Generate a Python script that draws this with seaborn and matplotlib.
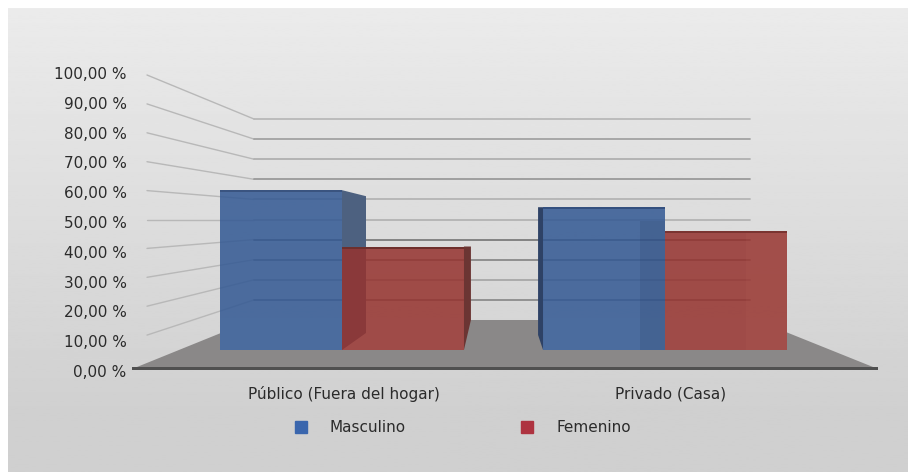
import matplotlib
matplotlib.use("Agg")
import matplotlib.pyplot as plt
from matplotlib.lines import Line2D
from matplotlib.patches import Polygon, Rectangle
from matplotlib.transforms import ScaledTranslation
import numpy as np
import pandas as pd
import seaborn as sns

categories = ["Público (Fuera del hogar)", "Privado (Casa)"]
series_names = ["Masculino", "Femenino"]
masculino = [61.0, 54.5]
femenino = [39.5, 45.5]
axis_ticks = [0, 10, 20, 30, 40, 50, 60, 70, 80, 90, 100]
back_line_greys = ["#8a8a8a", "#8c8c8c", "#a8a8a8", "#8a8a8a", "#7c7c7c",
                   "#b4b4b4", "#b4b4b4", "#9a9a9a", "#b0b0b0", "#a2a2a2", "#b8b8b8"]

W, H = 908, 472
BLUE, RED = "#325893", "#95322e"
TEXT = "#2b2b2b"

sns.set_theme(style="white")
plt.rcParams["font.family"] = ["DejaVu Sans"]

df = pd.DataFrame({
    "categoria": categories * 2,
    "sexo": [series_names[0]] * 2 + [series_names[1]] * 2,
    "valor": masculino + femenino,
})

fig = plt.figure(figsize=(W / 100, H / 100), dpi=100, facecolor="white")


def frame_rect(left, top, right, bottom):
    return [left / W, 1 - bottom / H, (right - left) / W, (bottom - top) / H]


# Backdrop, floor and wall lines live on a full-figure layer measured in pixels.
stage = fig.add_axes([0, 0, 1, 1], zorder=0)
stage.set_xlim(0, W)
stage.set_ylim(H, 0)
stage.axis("off")
shade = np.interp(np.linspace(8, H, 200), [8, 410, H], [0.922, 0.816, 0.816]).reshape(-1, 1)
stage.imshow(shade, extent=(8, W, H, 8), cmap="gray", vmin=0, vmax=1, aspect="auto", zorder=0)
stage.set_xlim(0, W)
stage.set_ylim(H, 0)

WALL_X, BACK_X, BACK_END = 147, 254, 750


def wall_y(v):
    return 364 - 2.89 * v


def back_y(v):
    return 320 - 2.01 * v


stage.add_patch(Polygon([(132, 369), (253, 320), (756, 320), (878, 369)],
                        facecolor="#8a8888", edgecolor="none", zorder=1))
stage.add_patch(Rectangle((132, 367), 746, 3, facecolor="#505050", edgecolor="none", zorder=2))
for v, grey in zip(axis_ticks[1:], back_line_greys[1:]):
    stage.plot([WALL_X, BACK_X], [wall_y(v), back_y(v)], color="#b8b8b8", lw=1.0, zorder=1)
    stage.plot([BACK_X, BACK_END], [back_y(v), back_y(v)], color=grey, lw=1.3, zorder=1)

# Value scale on the left edge.
scale = fig.add_axes(frame_rect(135, 73, 136, 371), zorder=1)
scale.patch.set_alpha(0)
scale.set_ylim(0, 100)
scale.set_xticks([])
scale.set_yticks(axis_ticks)
scale.set_yticklabels([f"{v},00 %" for v in axis_ticks], fontsize=11, color=TEXT)
scale.tick_params(axis="y", length=0, pad=6)
sns.despine(ax=scale, left=True, bottom=True)

# Front faces of the bars.
ax = fig.add_axes(frame_rect(180.5, 90, 826.5, 350), zorder=2)
ax.patch.set_alpha(0)
sns.barplot(data=df, x="categoria", y="valor", hue="sexo", order=categories,
            hue_order=series_names, palette=[BLUE, RED], width=0.755, gap=0,
            saturation=1, alpha=0.85, legend=False, ax=ax)
ax.set_xlim(-0.5, 1.5)
ax.set_ylim(0, 260 / 2.62)
ax.set_xlabel("")
ax.set_ylabel("")
ax.set_yticks([])
ax.tick_params(axis="x", length=0, pad=26, labelsize=11, labelcolor=TEXT)
sns.despine(ax=ax, left=True, bottom=True)
for label, shift in zip(ax.get_xticklabels(), [2, 6]):
    label.set_transform(label.get_transform() + ScaledTranslation(shift / 100, 0, fig.dpi_scale_trans))
for bar in ax.patches:
    bar.set_zorder(3)
    bar.set_edgecolor("none")


def to_px(x, y):
    px, py = ax.transData.transform((x, y))
    return px, H - py


def side_face(points, color, alpha=1.0, zorder=2):
    stage_points = [stage.transData.transform(p) for p in points]
    face = Polygon(ax.transData.inverted().transform(stage_points), closed=True,
                   facecolor=color, edgecolor="none", alpha=alpha, zorder=zorder, clip_on=False)
    ax.add_patch(face)


bars = [b for b in ax.patches if b.get_height() > 0]
pub_m, pri_m, pub_f, pri_f = bars[0], bars[1], bars[2], bars[3]


def corners(bar):
    left, top = to_px(bar.get_x(), bar.get_height())
    right, base = to_px(bar.get_x() + bar.get_width(), 0)
    return left, right, top, base


# The floor does not show through the bars: each one gets a pale backing over it.
for bar in bars:
    l, r, t, b = corners(bar)
    side_face([(l, 318), (r, 318), (r, b), (l, b)], "#dcdcdc", zorder=1.5)

# Depth faces follow the top and base of the bar they belong to.
l, r, t, b = corners(pub_m)
side_face([(r, t), (r + 24, t + 6), (r + 24, b - 17), (r, b)], "#4d6180")
l, r, t, b = corners(pub_f)
side_face([(r, t), (r + 7, t), (r + 7, b - 30), (r, b)], "#6b3533")
l, r, t, b = corners(pri_m)
side_face([(l - 5, t), (l, t), (l, b), (l - 5, b - 15)], "#2e4266")
side_face([(r - 25, t + 14), (r, t + 14), (r, b), (r - 25, b)], "#2b3f66", alpha=0.2, zorder=4)
l, r, t, b = corners(pri_f)
side_face([(r - 41, t), (r, t + 2), (r, b), (r - 41, b)], "#c06a64", alpha=0.1, zorder=4)

# Darker rim along the top of every bar.
for bar, rim in zip(bars, ["#3a5480", "#34507f", "#6e2f2c", "#7a3431"]):
    l, r, t, b = corners(bar)
    side_face([(l, t), (r, t), (r, t + 2), (l, t + 2)], rim, zorder=5)

# Legend below the categories.
handles = [Line2D([], [], linestyle="none", marker="s", markersize=8, color=c)
           for c in ["#3a66ad", "#ae3340"]]
fig.legend(handles, series_names, loc="center left", bbox_to_anchor=(286 / W, 1 - 428 / H),
           ncol=2, frameon=False, fontsize=11, labelcolor=TEXT, handletextpad=0.87,
           columnspacing=6.95, borderpad=0, borderaxespad=0)

fig.savefig("out.png", dpi=100, facecolor="white")
